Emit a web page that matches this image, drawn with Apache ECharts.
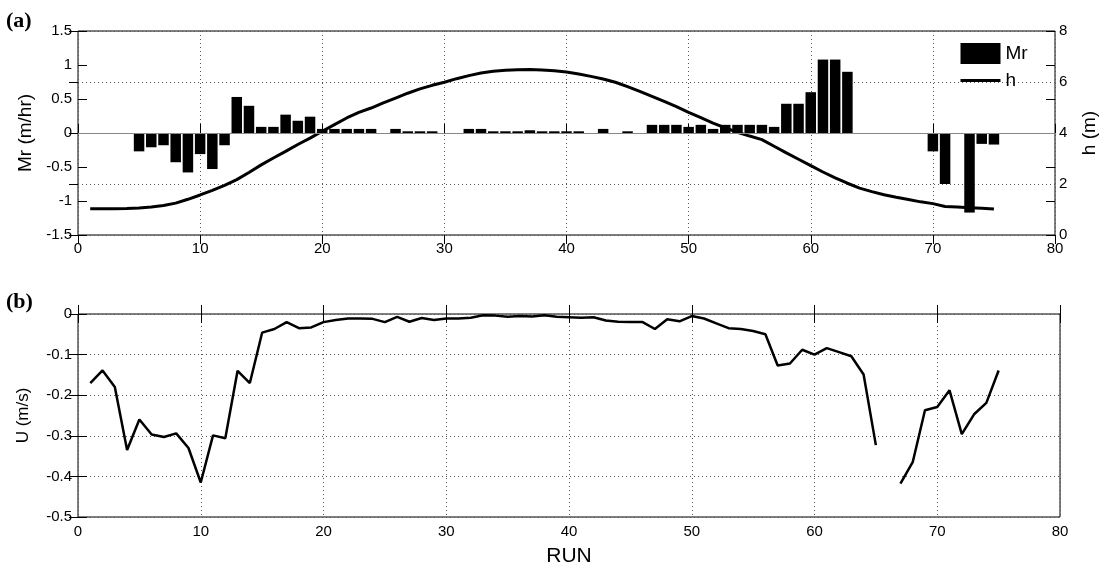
<!DOCTYPE html>
<html>
<head>
<meta charset="utf-8">
<script src="https://cdn.jsdelivr.net/npm/echarts@6/dist/echarts.min.js"></script>
<style>
  html, body { margin: 0; padding: 0; background: #fff; }
  #chart { width: 1107px; height: 568px; }
</style>
</head>
<body>
<div id="chart"></div>
<script>
// run numbers 1..75
const runs = [1, 2, 3, 4, 5, 6, 7, 8, 9, 10, 11, 12, 13, 14, 15, 16, 17, 18, 19, 20,
  21, 22, 23, 24, 25, 26, 27, 28, 29, 30, 31, 32, 33, 34, 35, 36, 37, 38, 39, 40,
  41, 42, 43, 44, 45, 46, 47, 48, 49, 50, 51, 52, 53, 54, 55, 56, 57, 58, 59, 60,
  61, 62, 63, 64, 65, 66, 67, 68, 69, 70, 71, 72, 73, 74, 75];

// (a) Mr (m/hr) bars
const mr = [0, 0, 0, 0, -0.27, -0.21, -0.18, -0.43, -0.58, -0.31,
  -0.53, -0.18, 0.53, 0.40, 0.09, 0.09, 0.27, 0.18, 0.24, 0.06,
  0.06, 0.06, 0.06, 0.06, 0, 0.06, 0.025, 0.025, 0.025, 0,
  0, 0.06, 0.06, 0.025, 0.025, 0.025, 0.04, 0.025, 0.025, 0.025,
  0.025, 0, 0.06, 0, 0.025, 0, 0.12, 0.12, 0.12, 0.09,
  0.12, 0.06, 0.12, 0.12, 0.12, 0.12, 0.09, 0.43, 0.43, 0.60,
  1.08, 1.08, 0.90, 0, 0, 0, 0, 0, 0, -0.27,
  -0.75, 0, -1.17, -0.16, -0.17];

// (a) h (m) line, right axis
const h = [1.03, 1.03, 1.03, 1.04, 1.06, 1.10, 1.16, 1.25, 1.40, 1.57,
  1.75, 1.95, 2.17, 2.45, 2.75, 3.02, 3.28, 3.55, 3.80, 4.07,
  4.33, 4.59, 4.81, 4.98, 5.18, 5.37, 5.56, 5.73, 5.87, 5.99,
  6.13, 6.25, 6.35, 6.42, 6.46, 6.48, 6.49, 6.47, 6.44, 6.39,
  6.31, 6.22, 6.12, 5.99, 5.82, 5.63, 5.44, 5.24, 5.03, 4.81,
  4.60, 4.39, 4.20, 4.03, 3.88, 3.74, 3.48, 3.22, 2.97, 2.72,
  2.47, 2.24, 2.03, 1.84, 1.70, 1.58, 1.48, 1.39, 1.30, 1.23,
  1.12, 1.10, 1.07, 1.05, 1.02];

// (b) U (m/s), run 66 missing
const u = [-0.170, -0.139, -0.180, -0.335, -0.260, -0.297, -0.303, -0.294, -0.330, -0.415,
  -0.299, -0.306, -0.140, -0.170, -0.046, -0.037, -0.020, -0.035, -0.033, -0.020,
  -0.015, -0.011, -0.011, -0.012, -0.020, -0.007, -0.019, -0.010, -0.015, -0.011,
  -0.011, -0.009, -0.003, -0.004, -0.007, -0.005, -0.006, -0.003, -0.007, -0.008,
  -0.009, -0.008, -0.016, -0.019, -0.020, -0.020, -0.037, -0.013, -0.018, -0.005,
  -0.011, -0.023, -0.035, -0.037, -0.042, -0.050, -0.127, -0.122, -0.088, -0.100,
  -0.084, -0.094, -0.104, -0.149, -0.323, null, -0.418, -0.365, -0.237, -0.229,
  -0.188, -0.296, -0.247, -0.219, -0.139];

const xTicks = { min: 0, max: 80, interval: 10 };
const FONT = "'Liberation Sans', Arial, sans-serif";
const dotted = { type: [1, 3], color: '#555', width: 1 };
const tick = { inside: true, length: 9, lineStyle: { color: '#000', width: 1 } };
const lbl = { fontSize: 15, color: '#000', fontFamily: FONT };

const mrData = runs.map((r, i) => [r, mr[i]]).filter((d) => d[1] !== 0);
const hData = runs.map((r, i) => [r, h[i]]);
const uData = runs.map((r, i) => [r, u[i] === null ? '-' : u[i]]);

const chart = echarts.init(document.getElementById('chart'));

chart.setOption({
  animation: false,
  backgroundColor: '#fff',
  textStyle: { fontFamily: FONT, color: '#000' },
  title: [
    { text: '(a)', left: 6, top: 10, padding: 0,
      textStyle: { fontFamily: "'Liberation Serif', serif", fontWeight: 'bold', fontSize: 22, color: '#000' } },
    { text: '(b)', left: 6, top: 291, padding: 0,
      textStyle: { fontFamily: "'Liberation Serif', serif", fontWeight: 'bold', fontSize: 22, color: '#000' } },
  ],
  legend: {
    orient: 'vertical',
    left: 959,
    top: 43,
    padding: 0,
    itemWidth: 40,
    itemHeight: 21,
    itemGap: 7,
    textStyle: { fontSize: 19, color: '#000', fontFamily: FONT },
    data: [
      { name: 'Mr', icon: 'rect' },
      // line only, no marker
      { name: 'h', itemStyle: { opacity: 0 }, lineStyle: { width: 3, color: '#000' } },
    ],
  },
  grid: [
    { left: 78, right: 47, top: 31, height: 204, show: true, borderColor: '#000', borderWidth: 1 },
    { left: 78, right: 47, top: 314, height: 204, show: true, borderColor: '#000', borderWidth: 1 },
  ],
  xAxis: [
    { gridIndex: 0, type: 'value', ...xTicks, axisLine: { show: false }, axisTick: tick,
      axisLabel: { ...lbl, margin: 6 }, splitLine: { show: true, lineStyle: dotted } },
    { gridIndex: 0, type: 'value', position: 'top', ...xTicks, axisLine: { show: false }, axisTick: tick,
      axisLabel: { show: false }, splitLine: { show: false } },
    { gridIndex: 1, type: 'value', ...xTicks, axisLine: { show: false }, axisTick: tick,
      axisLabel: { ...lbl, margin: 7 }, splitLine: { show: true, lineStyle: dotted },
      name: 'RUN', nameLocation: 'middle', nameGap: 29,
      nameTextStyle: { fontSize: 21, color: '#000', fontFamily: FONT, verticalAlign: 'top' } },
    { gridIndex: 1, type: 'value', position: 'top', ...xTicks, axisLine: { show: false }, axisTick: tick,
      axisLabel: { show: false }, splitLine: { show: false } },
  ],
  yAxis: [
    { gridIndex: 0, type: 'value', min: -1.5, max: 1.5, interval: 0.5,
      axisLine: { show: false }, axisTick: tick, axisLabel: { ...lbl, margin: 6 },
      splitLine: { show: false },
      name: 'Mr (m/hr)', nameLocation: 'middle', nameGap: 41, nameRotate: 90,
      nameTextStyle: { fontSize: 19, color: '#000', fontFamily: FONT } },
    { gridIndex: 0, type: 'value', position: 'right', min: 0, max: 8, interval: 2,
      axisLine: { show: false }, axisTick: tick, axisLabel: { ...lbl, margin: 4 },
      splitLine: { show: true, lineStyle: dotted },
      name: 'h (m)', nameLocation: 'middle', nameGap: 25, nameRotate: 90,
      nameTextStyle: { fontSize: 19, color: '#000', fontFamily: FONT } },
    { gridIndex: 0, type: 'value', position: 'right', min: -1.5, max: 1.5, interval: 0.5,
      axisLine: { show: false }, axisTick: tick, axisLabel: { show: false }, splitLine: { show: false } },
    { gridIndex: 1, type: 'value', min: -0.5, max: 0, interval: 0.1,
      axisLine: { show: false }, axisTick: tick, axisLabel: { ...lbl, margin: 6 },
      splitLine: { show: true, lineStyle: dotted },
      name: 'U (m/s)', nameLocation: 'middle', nameGap: 46, nameRotate: 90,
      nameTextStyle: { fontSize: 17, color: '#000', fontFamily: FONT } },
    { gridIndex: 1, type: 'value', position: 'right', min: -0.5, max: 0, interval: 0.1,
      axisLine: { show: false }, axisTick: tick, axisLabel: { show: false }, splitLine: { show: false } },
  ],
  series: [
    {
      name: 'Mr',
      type: 'bar',
      xAxisIndex: 0,
      yAxisIndex: 0,
      data: mrData,
      barWidth: 10.5,
      itemStyle: { color: '#000' },
      markLine: {
        silent: true,
        symbol: 'none',
        label: { show: false },
        lineStyle: { type: 'solid', color: '#888', width: 1 },
        data: [{ yAxis: 0 }],
      },
    },
    {
      name: 'h',
      type: 'line',
      xAxisIndex: 0,
      yAxisIndex: 1,
      data: hData,
      symbol: 'none',
      lineStyle: { color: '#000', width: 3 },
      itemStyle: { color: '#000' },
    },
    {
      name: 'U',
      type: 'line',
      xAxisIndex: 2,
      yAxisIndex: 3,
      data: uData,
      symbol: 'none',
      lineStyle: { color: '#000', width: 2.5 },
      itemStyle: { color: '#000' },
    },
  ],
});
</script>
</body>
</html>
